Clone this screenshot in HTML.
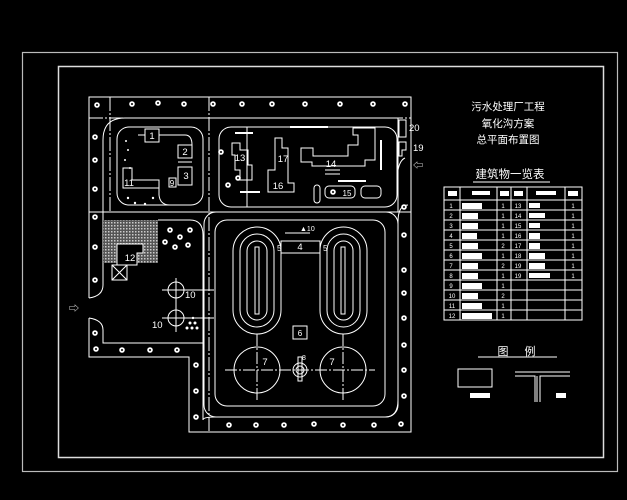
<!DOCTYPE html>
<html><head><meta charset="utf-8"><style>
html,body{margin:0;padding:0;background:#000;width:627px;height:500px;overflow:hidden}
svg{display:block}
text{font-family:"Liberation Sans","Noto Sans CJK SC",sans-serif;fill:#fff}
</style></head><body>
<svg width="627" height="500" viewBox="0 0 627 500" xmlns="http://www.w3.org/2000/svg">
<defs>
<g id="t"><circle r="2.8" fill="#fff"/><circle r="1" fill="#000"/></g>
</defs>
<g fill="none" stroke="#ddd" stroke-width="1.2">
<rect x="22.5" y="52.5" width="595" height="419" stroke="#bbb"/>
<rect x="58.5" y="66.5" width="545" height="391" stroke-width="1.5"/>
</g>
<g fill="none" stroke="#fff" stroke-width="1">
<!-- site boundary -->
<path d="M89,298 V97 H411 V432 H189 V357 H89 V318"/>
<path d="M89,298 Q103,296 103,285 V140 Q103,118 125,118 H398"/>
<path d="M89,318 Q103,320 103,330 V343 H203 V420 Q203,417 215,417 H385 Q398,417 398,400 V222 Q398,205 408,205"/>
<line x1="89" y1="118" x2="411" y2="118" stroke-dasharray="14,2,2,2"/>
<line x1="89" y1="212" x2="411" y2="212"/>
<line x1="110" y1="97" x2="110" y2="212" stroke-dasharray="14,2,2,2"/>
<line x1="209" y1="97" x2="209" y2="432" stroke-dasharray="14,2,2,2"/>
<line x1="398" y1="118" x2="398" y2="212"/>
<!-- tank area -->
<rect x="204" y="212" width="194" height="205" rx="12"/>
<rect x="215" y="220" width="170" height="186" rx="12"/>
<!-- ditches -->
<rect x="233" y="227" width="48" height="107" rx="24"/>
<rect x="240" y="234" width="34" height="93" rx="17"/>
<rect x="247" y="241" width="20" height="79" rx="10"/>
<rect x="255" y="247" width="4" height="67"/>
<rect x="320" y="227" width="47" height="107" rx="23.5"/>
<rect x="327" y="234" width="33" height="93" rx="16.5"/>
<rect x="334" y="241" width="19" height="79" rx="9.5"/>
<rect x="341" y="247" width="4" height="67"/>
<rect x="281" y="241" width="39" height="12"/>
<line x1="285" y1="233" x2="310" y2="233"/>
<!-- clarifiers -->
<circle cx="257" cy="370" r="23"/>
<circle cx="343" cy="370" r="23"/>
<line x1="225" y1="370" x2="375" y2="370" stroke-dasharray="12,2,2,2"/>
<line x1="257" y1="334" x2="257" y2="402" stroke-dasharray="12,2,2,2"/>
<line x1="343" y1="334" x2="343" y2="402" stroke-dasharray="12,2,2,2"/>
<circle cx="300" cy="370" r="7"/><circle cx="300" cy="370" r="4"/>
<rect x="298" y="357" width="4" height="24"/>
<rect x="293" y="326" width="14" height="13"/>
<!-- circles 10 -->
<circle cx="176" cy="290" r="8"/><circle cx="176" cy="318" r="8"/>
<line x1="162" y1="290" x2="214" y2="290"/><line x1="162" y1="318" x2="214" y2="318"/>
<line x1="176" y1="278" x2="176" y2="332"/>
<!-- top-left block -->
<rect x="117" y="127" width="86" height="78" rx="12"/>
<path d="M159,135 H185 Q192,135 192,145"/>
<path d="M138,135 H145"/>
<rect x="145" y="129" width="14" height="13"/>
<rect x="178" y="145" width="14" height="13"/>
<rect x="178" y="167" width="14" height="18"/>
<line x1="178" y1="162" x2="192" y2="162"/>
<rect x="169" y="178" width="7" height="9"/>
<path d="M123,168 H132 V180 H159 V188 H123 Z"/>
<path d="M159,188 V195 Q160,205 170,205"/>
<!-- top-mid block -->
<rect x="219" y="127" width="178" height="80" rx="12"/>
<line x1="247" y1="127" x2="247" y2="207"/>
<path d="M232,143 H240 V150 H248 V165 H252 V180 H240 V170 H235 V155 H232 Z"/>
<path d="M275,138 H282 V148 H288 V183 H294 V192 H268 V170 H275 Z"/>
<path d="M301,148 H313 V156 H348 V145 H358 V135 H353 V128 H375 V160 H365 V166 H312 V162 H301 Z"/>
<line x1="325" y1="170" x2="340" y2="170"/><line x1="325" y1="174" x2="340" y2="174"/>
<rect x="314" y="185" width="6" height="18" rx="3"/>
<rect x="325" y="186" width="30" height="12" rx="4"/>
<rect x="361" y="186" width="20" height="12" rx="4"/>
<rect x="399" y="120" width="7" height="17"/>
<path d="M399,142 H406 V150 H402 V156 H399 Z"/>
<path d="M398,205 V170 Q400,160 405,158"/>
<!-- hatched area / 12 -->
<rect x="103" y="220" width="55" height="43" fill="url(#h)" stroke="none"/>
<path d="M117,244 H143 V253 H137 V265 H117 Z" fill="#000"/>
<rect x="112" y="265" width="15" height="15"/>
<path d="M112,265 L127,280 M127,265 L112,280"/>
<path d="M158,220 H190 Q203,220 203,235 V343"/>
</g>
<defs><pattern id="h" width="3" height="3" patternUnits="userSpaceOnUse"><rect width="3" height="3" fill="#555"/><rect width="1.5" height="1.5" fill="#ccc"/></pattern></defs>
<!-- trees -->
<g>
<use href="#t" x="97" y="105"/><use href="#t" x="132" y="104"/><use href="#t" x="158" y="103"/><use href="#t" x="184" y="104"/><use href="#t" x="213" y="104"/><use href="#t" x="242" y="104"/><use href="#t" x="272" y="104"/><use href="#t" x="305" y="104"/><use href="#t" x="340" y="104"/><use href="#t" x="373" y="104"/><use href="#t" x="405" y="104"/>
<use href="#t" x="95" y="137"/><use href="#t" x="95" y="160"/><use href="#t" x="95" y="189"/><use href="#t" x="95" y="217"/><use href="#t" x="95" y="247"/><use href="#t" x="95" y="280"/><use href="#t" x="95" y="333"/>
<use href="#t" x="96" y="349"/><use href="#t" x="122" y="350"/><use href="#t" x="150" y="350"/><use href="#t" x="177" y="350"/>
<use href="#t" x="196" y="365"/><use href="#t" x="196" y="391"/><use href="#t" x="196" y="417"/>
<use href="#t" x="229" y="425"/><use href="#t" x="256" y="425"/><use href="#t" x="284" y="425"/><use href="#t" x="314" y="424"/><use href="#t" x="343" y="425"/><use href="#t" x="374" y="425"/><use href="#t" x="401" y="424"/>
<use href="#t" x="404" y="207"/><use href="#t" x="404" y="235"/><use href="#t" x="404" y="270"/><use href="#t" x="404" y="293"/><use href="#t" x="404" y="318"/><use href="#t" x="404" y="345"/><use href="#t" x="404" y="370"/><use href="#t" x="404" y="396"/>
<use href="#t" x="180" y="237"/><use href="#t" x="170" y="230"/><use href="#t" x="190" y="230"/><use href="#t" x="175" y="247"/><use href="#t" x="188" y="245"/><use href="#t" x="165" y="242"/>
<use href="#t" x="221" y="152"/><use href="#t" x="228" y="185"/><use href="#t" x="238" y="178"/><use href="#t" x="333" y="192"/>
</g>
<g fill="#fff">
<circle cx="126" cy="141" r="1"/><circle cx="128" cy="150" r="1"/><circle cx="125" cy="160" r="1"/><circle cx="130" cy="168" r="1"/>
<circle cx="128" cy="198" r="1.2"/><circle cx="135" cy="203" r="1.2"/><circle cx="145" cy="204" r="1.2"/><circle cx="153" cy="198" r="1.2"/>
<rect x="290" y="126" width="38" height="2"/><rect x="235" y="132" width="18" height="2"/><rect x="240" y="191" width="20" height="2"/><rect x="338" y="180" width="28" height="2"/><rect x="380" y="140" width="2" height="30"/>
<circle cx="187" cy="328" r="1.5"/><circle cx="192" cy="328" r="1.5"/><circle cx="197" cy="328" r="1.5"/><circle cx="190" cy="323" r="1.5"/><circle cx="195" cy="323" r="1.5"/><circle cx="193" cy="318" r="1.2"/>
</g>
<g font-size="9.5">
<text x="152" y="139" text-anchor="middle">1</text><text x="185" y="155" text-anchor="middle">2</text><text x="186" y="179" text-anchor="middle">3</text><text x="172" y="186" text-anchor="middle" font-size="8">9</text><text x="129" y="186" text-anchor="middle">11</text>
<text x="240" y="161" text-anchor="middle">13</text><text x="283" y="162" text-anchor="middle">17</text><text x="278" y="189" text-anchor="middle">16</text><text x="331" y="167" text-anchor="middle">14</text><text x="347" y="196" text-anchor="middle" font-size="8">15</text>
<text x="409" y="131">20</text><text x="413" y="151">19</text>
<text x="130" y="261" text-anchor="middle">12</text>
<text x="185" y="298">10</text><text x="152" y="328">10</text>
<text x="300" y="250" text-anchor="middle">4</text><text x="277" y="251" font-size="8">5</text><text x="323" y="251" font-size="8">5</text><text x="300" y="231" font-size="7">▲10</text>
<text x="300" y="336" text-anchor="middle" font-size="8">6</text><text x="265" y="365" text-anchor="middle">7</text><text x="332" y="365" text-anchor="middle">7</text><text x="302" y="360" font-size="7">8</text>
<text x="74" y="312" text-anchor="middle" font-size="10">⇨</text><text x="418" y="169" text-anchor="middle" font-size="10">⇦</text>
</g>
<!-- titles -->
<g font-size="10.5" text-anchor="middle" fill="#eee">
<text x="508" y="110">污水处理厂工程</text>
<text x="508" y="127">氧化沟方案</text>
<text x="508" y="143">总平面布置图</text>
<text x="510" y="178" font-size="11.5">建筑物一览表</text>
<text x="503" y="355" font-size="11">图</text><text x="530" y="355" font-size="11">例</text>
</g>
<g stroke="#fff" fill="none" stroke-width="1">
<line x1="473" y1="182" x2="550" y2="182"/>
<line x1="478" y1="357" x2="557" y2="357"/>
<rect x="444" y="187" width="138" height="133"/>
<path d="M460,187V320M497,187V320M511,187V320M527,187V320M565,187V320"/>
<path d="M444,200H582M444,210H582M444,220H582M444,230H582M444,240H582M444,250H582M444,260H582M444,270H582M444,280H582M444,290H582M444,300H582M444,310H582"/>
<rect x="458" y="369" width="34" height="18"/>
<path d="M515,372H570M515,376H535V402M540,402V376H570M537,376V402" />
</g>
<g fill="#fff">
<rect x="448" y="191" width="9" height="5"/><rect x="472" y="191" width="18" height="4"/><rect x="500" y="191" width="9" height="5"/><rect x="514" y="191" width="9" height="5"/><rect x="536" y="191" width="20" height="4"/><rect x="568" y="191" width="10" height="5"/>
<rect x="462" y="203" width="20" height="6"/><rect x="462" y="213" width="16" height="6"/><rect x="462" y="223" width="16" height="6"/><rect x="462" y="233" width="15" height="6"/><rect x="462" y="243" width="16" height="6"/><rect x="462" y="253" width="20" height="6"/><rect x="462" y="263" width="16" height="6"/><rect x="462" y="273" width="16" height="6"/><rect x="462" y="283" width="20" height="6"/><rect x="462" y="293" width="16" height="6"/><rect x="462" y="303" width="20" height="6"/><rect x="462" y="313" width="30" height="6"/>
<rect x="529" y="203" width="11" height="5"/><rect x="529" y="213" width="16" height="5"/><rect x="529" y="223" width="11" height="5"/><rect x="529" y="233" width="11" height="6"/><rect x="529" y="243" width="11" height="6"/><rect x="529" y="253" width="16" height="6"/><rect x="529" y="263" width="16" height="6"/><rect x="529" y="273" width="21" height="5"/>
<rect x="470" y="393" width="20" height="5"/><rect x="556" y="393" width="10" height="5"/>
</g>
<g font-size="6" fill="#fff" text-anchor="middle">
<text x="451" y="208">1</text><text x="451" y="218">2</text><text x="451" y="228">3</text><text x="451" y="238">4</text><text x="451" y="248">5</text><text x="451" y="258">6</text><text x="451" y="268">7</text><text x="451" y="278">8</text><text x="451" y="288">9</text><text x="452" y="298">10</text><text x="452" y="308">11</text><text x="452" y="318">12</text>
<text x="503" y="208">1</text><text x="503" y="218">1</text><text x="503" y="228">1</text><text x="503" y="238">1</text><text x="503" y="248">2</text><text x="503" y="258">1</text><text x="503" y="268">2</text><text x="503" y="278">1</text><text x="503" y="288">1</text><text x="503" y="298">2</text><text x="503" y="308">1</text><text x="503" y="318">1</text>
<text x="518" y="208">13</text><text x="518" y="218">14</text><text x="518" y="228">15</text><text x="518" y="238">16</text><text x="518" y="248">17</text><text x="518" y="258">18</text><text x="518" y="268">19</text><text x="518" y="278">19</text>
<text x="573" y="208">1</text><text x="573" y="218">1</text><text x="573" y="228">1</text><text x="573" y="238">1</text><text x="573" y="248">1</text><text x="573" y="258">1</text><text x="573" y="268">1</text><text x="573" y="278">1</text>
</g>
</svg>
</body></html>
